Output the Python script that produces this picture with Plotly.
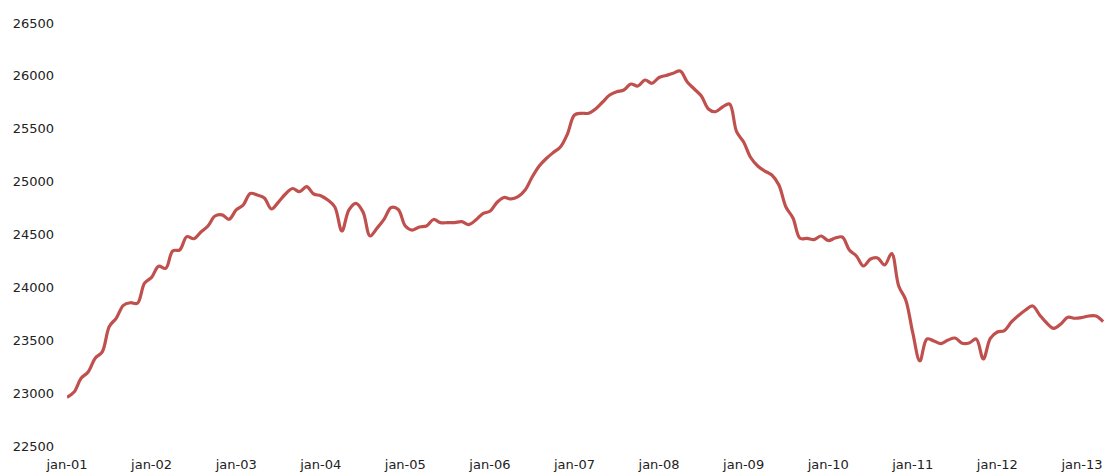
import plotly.graph_objects as go

month_abbr = ["jan", "feb", "mar", "apr", "mai", "jun", "jul", "aug", "sep", "okt", "nov", "des"]
years = list(range(1, 14))
months = [f"{m}-{y:02d}" for y in years for m in month_abbr][:148]

values = [
    22960, 23010, 23140, 23200, 23330, 23390, 23630, 23710, 23830, 23855, 23850, 24040,
    24095, 24200, 24180, 24345, 24355, 24480, 24460, 24524, 24580, 24675, 24685, 24644,
    24732, 24779, 24888, 24873, 24845, 24741, 24807, 24883, 24935, 24905, 24952, 24883,
    24867, 24826, 24760, 24533, 24732, 24795, 24713, 24486, 24561, 24646, 24755, 24736,
    24580, 24542, 24571, 24580, 24642, 24612, 24612, 24613, 24621, 24594, 24637, 24698,
    24720, 24803, 24850, 24836, 24859, 24921, 25044, 25148, 25219, 25275, 25327, 25450,
    25630, 25646, 25646, 25687, 25753, 25819, 25850, 25866, 25923, 25904, 25961, 25930,
    25985, 26004, 26024, 26046, 25942, 25876, 25810, 25687, 25661, 25706, 25734, 25472,
    25375, 25228, 25148, 25100, 25063, 24968, 24760, 24656, 24464, 24464, 24452, 24486,
    24443, 24467, 24476, 24353, 24297, 24202, 24268, 24278, 24212, 24320, 24013, 23881,
    23569, 23304, 23512, 23493, 23469, 23502, 23521, 23471, 23474, 23512, 23323, 23517,
    23578, 23592, 23673, 23734, 23786, 23824, 23739, 23663, 23613, 23654, 23717, 23708,
    23715, 23729, 23729, 23677,
]

tick_labels = [f"jan-{y:02d}" for y in years]
y_ticks = list(range(22500, 27000, 500))

fig = go.Figure()
fig.add_trace(go.Scatter(
    x=months, y=values, mode="lines",
    line=dict(color="#C0504D", width=3.2, shape="spline", smoothing=1.0),
    cliponaxis=False, hoverinfo="skip",
))

fig.update_layout(
    width=1105, height=472,
    margin=dict(l=67, r=0, t=23, b=26),
    paper_bgcolor="white", plot_bgcolor="white",
    showlegend=False,
    font=dict(family="DejaVu Sans", size=13, color="#222222"),
    xaxis=dict(
        type="category", categoryorder="array", categoryarray=months,
        tickmode="array", tickvals=tick_labels, ticktext=tick_labels,
        range=[0, 147.27], showgrid=False, zeroline=False, showline=False,
        ticks="", automargin=False, ticklabelstandoff=9,
    ),
    yaxis=dict(
        range=[22500, 26500], tickmode="array", tickvals=y_ticks,
        ticktext=[str(v) for v in y_ticks],
        showgrid=False, zeroline=False, showline=False, ticks="",
        automargin=False, ticklabelstandoff=12,
    ),
)

fig.write_html(
    "out.html",
    config={"displayModeBar": False},
    post_script="document.body.style.margin='0';document.body.style.overflow='hidden';",
)
